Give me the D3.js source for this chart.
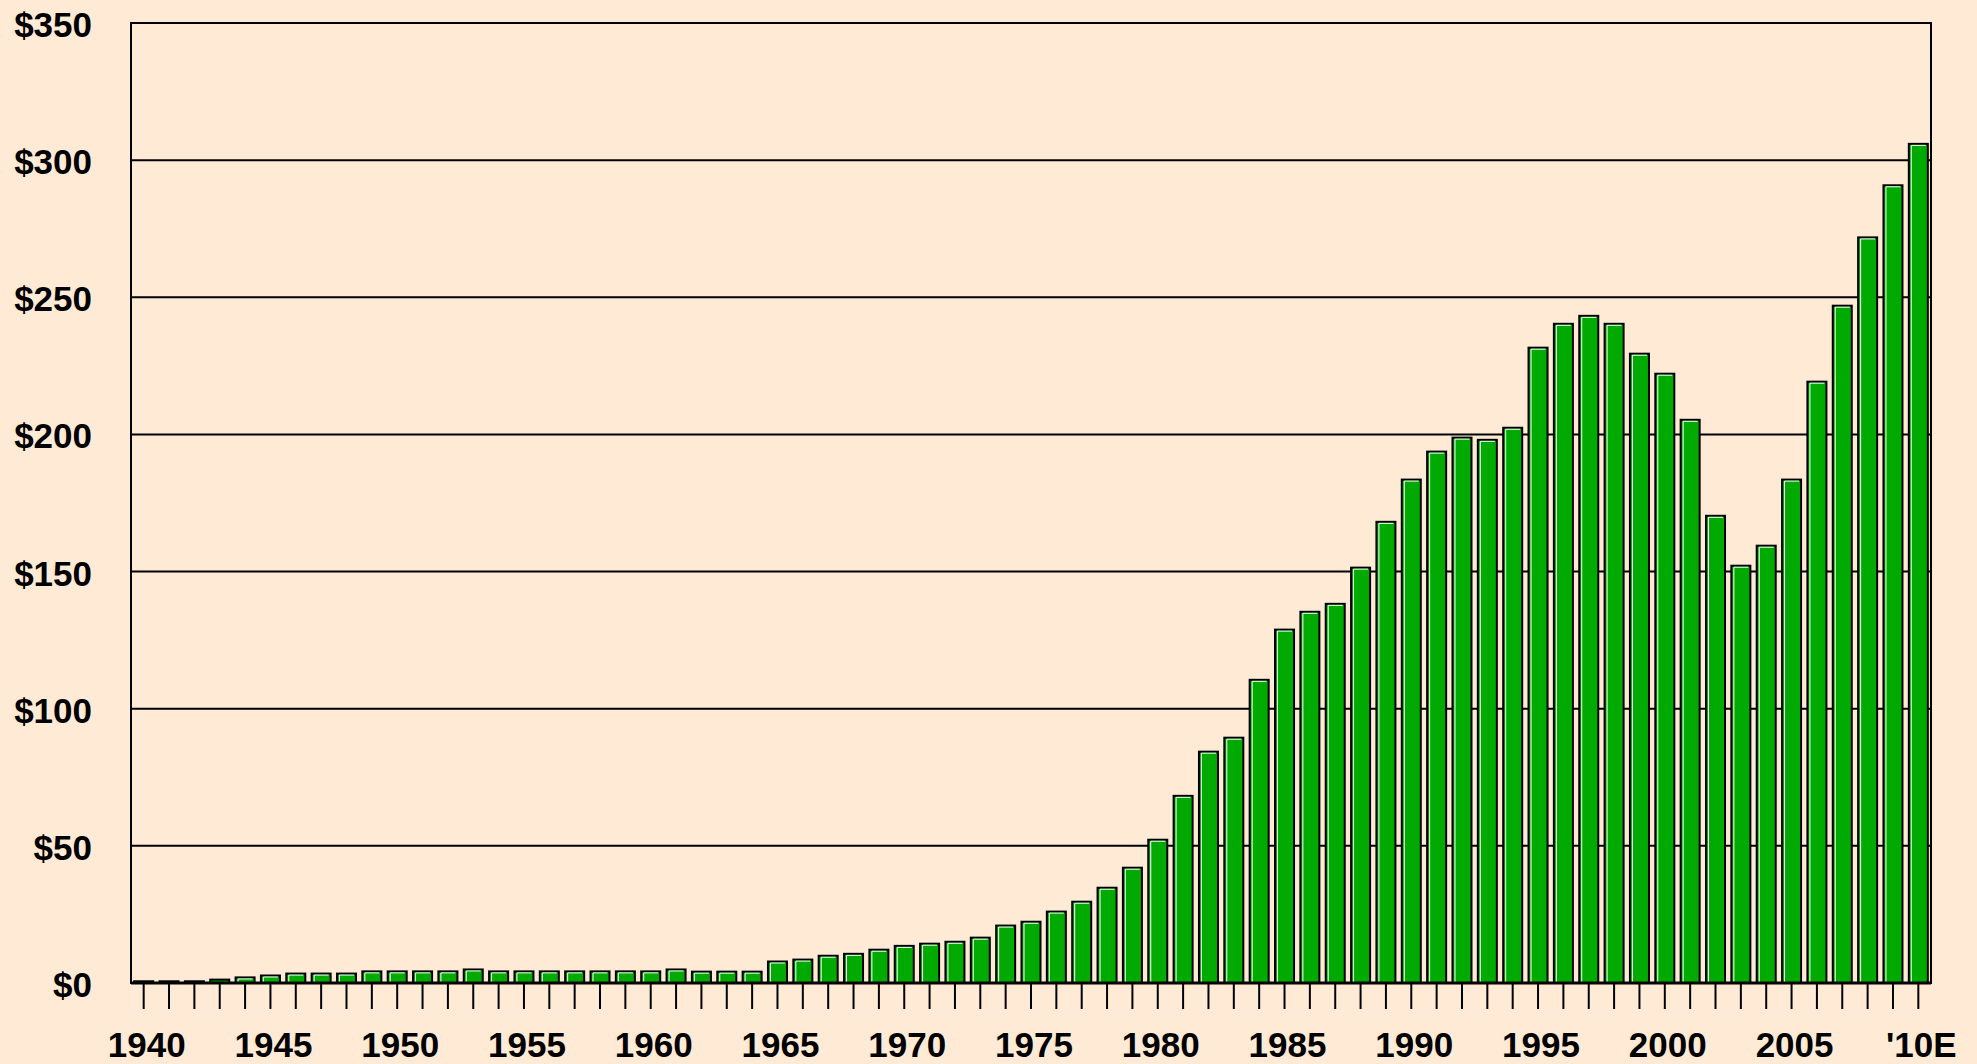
<!DOCTYPE html>
<html>
<head>
<meta charset="utf-8">
<script src="https://cdn.jsdelivr.net/npm/d3@7/dist/d3.min.js"></script>
<style>
  html, body { margin: 0; padding: 0; background: #FFEBD5; }
  svg { display: block; }
</style>
</head>
<body>
<div id="chart"></div>
<script>
// Yearly values, 1940 .. 2010 (2010 is an estimate)
const years = [
  1940, 1941, 1942, 1943, 1944, 1945, 1946, 1947, 1948, 1949,
  1950, 1951, 1952, 1953, 1954, 1955, 1956, 1957, 1958, 1959,
  1960, 1961, 1962, 1963, 1964, 1965, 1966, 1967, 1968, 1969,
  1970, 1971, 1972, 1973, 1974, 1975, 1976, 1977, 1978, 1979,
  1980, 1981, 1982, 1983, 1984, 1985, 1986, 1987, 1988, 1989,
  1990, 1991, 1992, 1993, 1994, 1995, 1996, 1997, 1998, 1999,
  2000, 2001, 2002, 2003, 2004, 2005, 2006, 2007, 2008, 2009,
  2010
];
const values = [
  1.0, 1.0, 1.0, 1.6, 2.4, 3.1, 3.8, 3.8, 3.8, 4.6,
  4.6, 4.6, 4.6, 5.3, 4.6, 4.6, 4.6, 4.6, 4.6, 4.6,
  4.6, 5.3, 4.5, 4.5, 4.5, 8.2, 8.9, 10.3, 11.0, 12.5,
  13.9, 14.7, 15.4, 16.9, 21.3, 22.7, 26.4, 30.0, 35.1, 42.4,
  52.6, 68.6, 84.7, 89.8, 110.9, 129.2, 135.7, 138.6, 151.8, 168.5,
  183.9, 194.1, 199.2, 198.4, 202.8, 232.0, 240.7, 243.6, 240.7, 229.8,
  222.5, 205.7, 170.7, 152.5, 159.8, 183.9, 219.6, 247.3, 272.2, 291.2,
  306.3
];
const labelYears = [1940, 1945, 1950, 1955, 1960, 1965, 1970, 1975, 1980, 1985, 1990, 1995, 2000, 2005, 2010];
const labelTexts = ['1940', '1945', '1950', '1955', '1960', '1965', '1970', '1975', '1980', '1985', '1990', '1995', '2000', '2005', "'10E"];
const yTicks = [0, 50, 100, 150, 200, 250, 300, 350];

const W = 1977, H = 1064;
const margin = { top: 23, right: 46, bottom: 81, left: 131 };
const FONT = '"Liberation Sans", Arial, Helvetica, sans-serif';
const GREEN = '#00AA00';

const svg = d3.select('#chart').append('svg')
  .attr('width', W)
  .attr('height', H);

svg.append('rect')
  .attr('width', W).attr('height', H)
  .attr('fill', '#FFEBD5');

const x = d3.scaleBand()
  .domain(years)
  .range([margin.left, W - margin.right])
  .paddingInner(0.25)
  .paddingOuter(0.125);

const y = d3.scaleLinear()
  .domain([0, 350])
  .range([H - margin.bottom, margin.top]);

// Gridlines (behind bars)
svg.append('g')
  .selectAll('line')
  .data(yTicks.filter(d => d > 0 && d < 350))
  .join('line')
  .attr('x1', margin.left).attr('x2', W - margin.right)
  .attr('y1', d => y(d)).attr('y2', d => y(d))
  .attr('stroke', '#000')
  .attr('stroke-width', 2);

// Y labels
const yAxis = d3.axisLeft(y)
  .tickValues(yTicks)
  .tickSize(0)
  .tickPadding(39)
  .tickFormat(d => '$' + d);

svg.append('g')
  .attr('transform', `translate(${margin.left},0)`)
  .call(yAxis)
  .call(g => g.select('.domain').remove())
  .selectAll('text')
  .attr('dy', null)
  .attr('y', 13.5)
  .style('font-family', FONT)
  .style('font-size', '35px')
  .style('font-weight', 'bold')
  .style('fill', '#000');

// X axis: a tick for every year, labels every five years
const labelMap = new Map(labelYears.map((yr, i) => [yr, labelTexts[i]]));
const xAxis = d3.axisBottom(x)
  .tickSize(26)
  .tickPadding(23)
  .tickFormat(d => labelMap.get(d) || '');

svg.append('g')
  .attr('transform', `translate(0,${y(0)})`)
  .call(xAxis)
  .call(g => g.select('.domain').remove())
  .call(g => g.selectAll('.tick line').attr('stroke', '#000').attr('stroke-width', 2))
  .selectAll('text')
  .attr('dx', 3)
  .style('font-family', FONT)
  .style('font-size', '35px')
  .style('font-weight', 'bold')
  .style('fill', '#000');

// Bars
const bw = x.bandwidth();
const bars = svg.append('g')
  .selectAll('g')
  .data(years.map((yr, i) => ({ year: yr, value: values[i] })))
  .join('g');

bars.append('rect')
  .attr('x', d => x(d.year))
  .attr('y', d => y(d.value) + 1)
  .attr('width', bw)
  .attr('height', d => Math.max(0, y(0) - y(d.value) - 1))
  .attr('fill', GREEN)
  .attr('stroke', '#000')
  .attr('stroke-width', 2);

// white highlight on left and top edge
bars.filter(d => y(0) - y(d.value) > 5)
  .append('path')
  .attr('d', d => {
    const x0 = x(d.year) + 2.5, x1 = x(d.year) + bw - 2;
    const t = y(d.value) + 2.5, b = y(0) - 1;
    return `M${x0},${b}V${t}H${x1}`;
  })
  .attr('fill', 'none')
  .attr('stroke', '#fff')
  .attr('stroke-width', 1);

// Plot frame and zero line
svg.append('rect')
  .attr('x', margin.left).attr('y', margin.top)
  .attr('width', W - margin.left - margin.right)
  .attr('height', y(0) - margin.top)
  .attr('fill', 'none')
  .attr('stroke', '#000')
  .attr('stroke-width', 2);

svg.append('line')
  .attr('x1', margin.left).attr('x2', W - margin.right)
  .attr('y1', y(0)).attr('y2', y(0))
  .attr('stroke', '#000')
  .attr('stroke-width', 3);
</script>
</body>
</html>
